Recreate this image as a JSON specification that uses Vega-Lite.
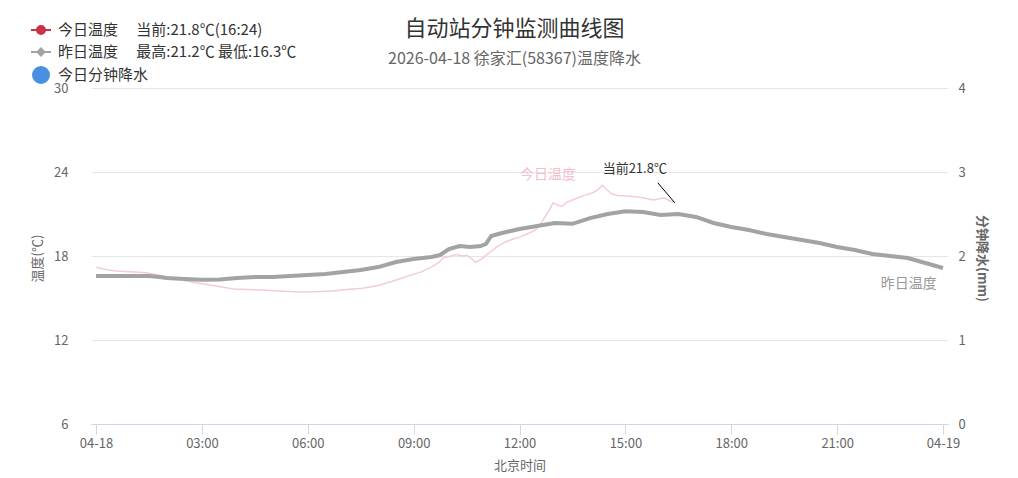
{
  "$schema": "https://vega.github.io/schema/vega-lite/v6.json",
  "width": 857,
  "height": 336,
  "autosize": {"type": "none"},
  "padding": {"left": 91, "top": 88, "right": 70, "bottom": 54},
  "background": "white",
  "config": {"font": "Noto Sans CJK SC", "view": {"stroke": null}},
  "title": {
    "text": "自动站分钟监测曲线图",
    "subtitle": "2026-04-18 徐家汇(58367)温度降水",
    "fontSize": 22,
    "fontWeight": "normal",
    "color": "#333333",
    "subtitleFontSize": 16,
    "subtitleColor": "#666666",
    "subtitlePadding": 10,
    "offset": -49,
    "dx": -5,
    "anchor": "middle"
  },
  "datasets": {
    "temp": [
      {"s": "今日温度", "h": 0, "t": 17.2}, {"s": "今日温度", "h": 0.25, "t": 17.05}, {"s": "今日温度", "h": 0.5, "t": 16.95}, {"s": "今日温度", "h": 0.8, "t": 16.9}, {"s": "今日温度", "h": 1.1, "t": 16.85}, {"s": "今日温度", "h": 1.4, "t": 16.8}, {"s": "今日温度", "h": 1.65, "t": 16.7}, {"s": "今日温度", "h": 2.0, "t": 16.5}, {"s": "今日温度", "h": 2.35, "t": 16.35}, {"s": "今日温度", "h": 2.7, "t": 16.15}, {"s": "今日温度", "h": 3.05, "t": 16.0}, {"s": "今日温度", "h": 3.4, "t": 15.85}, {"s": "今日温度", "h": 3.9, "t": 15.65}, {"s": "今日温度", "h": 4.3, "t": 15.6}, {"s": "今日温度", "h": 4.7, "t": 15.57}, {"s": "今日温度", "h": 5.2, "t": 15.5}, {"s": "今日温度", "h": 5.6, "t": 15.45}, {"s": "今日温度", "h": 5.85, "t": 15.43}, {"s": "今日温度", "h": 6.2, "t": 15.45}, {"s": "今日温度", "h": 6.7, "t": 15.5}, {"s": "今日温度", "h": 7.1, "t": 15.6}, {"s": "今日温度", "h": 7.55, "t": 15.7}, {"s": "今日温度", "h": 8.0, "t": 15.9}, {"s": "今日温度", "h": 8.4, "t": 16.2}, {"s": "今日温度", "h": 8.7, "t": 16.45}, {"s": "今日温度", "h": 8.95, "t": 16.65}, {"s": "今日温度", "h": 9.2, "t": 16.85}, {"s": "今日温度", "h": 9.5, "t": 17.2}, {"s": "今日温度", "h": 9.7, "t": 17.5}, {"s": "今日温度", "h": 9.85, "t": 17.9}, {"s": "今日温度", "h": 10.0, "t": 17.95}, {"s": "今日温度", "h": 10.2, "t": 18.1}, {"s": "今日温度", "h": 10.4, "t": 18.0}, {"s": "今日温度", "h": 10.5, "t": 18.05}, {"s": "今日温度", "h": 10.65, "t": 17.8}, {"s": "今日温度", "h": 10.75, "t": 17.55}, {"s": "今日温度", "h": 10.9, "t": 17.75}, {"s": "今日温度", "h": 11.05, "t": 18.05}, {"s": "今日温度", "h": 11.3, "t": 18.55}, {"s": "今日温度", "h": 11.45, "t": 18.8}, {"s": "今日温度", "h": 11.6, "t": 19.0}, {"s": "今日温度", "h": 11.8, "t": 19.2}, {"s": "今日温度", "h": 12.0, "t": 19.35}, {"s": "今日温度", "h": 12.2, "t": 19.55}, {"s": "今日温度", "h": 12.45, "t": 19.85}, {"s": "今日温度", "h": 12.6, "t": 20.3}, {"s": "今日温度", "h": 12.7, "t": 20.7}, {"s": "今日温度", "h": 12.85, "t": 21.3}, {"s": "今日温度", "h": 12.95, "t": 21.8}, {"s": "今日温度", "h": 13.1, "t": 21.6}, {"s": "今日温度", "h": 13.2, "t": 21.55}, {"s": "今日温度", "h": 13.35, "t": 21.85}, {"s": "今日温度", "h": 13.55, "t": 22.05}, {"s": "今日温度", "h": 13.7, "t": 22.2}, {"s": "今日温度", "h": 13.85, "t": 22.35}, {"s": "今日温度", "h": 14.0, "t": 22.45}, {"s": "今日温度", "h": 14.1, "t": 22.55}, {"s": "今日温度", "h": 14.25, "t": 22.8}, {"s": "今日温度", "h": 14.35, "t": 23.05}, {"s": "今日温度", "h": 14.45, "t": 22.8}, {"s": "今日温度", "h": 14.6, "t": 22.45}, {"s": "今日温度", "h": 14.8, "t": 22.3}, {"s": "今日温度", "h": 14.95, "t": 22.3}, {"s": "今日温度", "h": 15.2, "t": 22.25}, {"s": "今日温度", "h": 15.4, "t": 22.2}, {"s": "今日温度", "h": 15.6, "t": 22.1}, {"s": "今日温度", "h": 15.8, "t": 22.0}, {"s": "今日温度", "h": 16.0, "t": 22.1}, {"s": "今日温度", "h": 16.1, "t": 22.15}, {"s": "今日温度", "h": 16.25, "t": 21.95}, {"s": "今日温度", "h": 16.4, "t": 21.8},
      {"s": "昨日温度", "h": 0, "t": 16.57}, {"s": "昨日温度", "h": 0.5, "t": 16.57}, {"s": "昨日温度", "h": 1.0, "t": 16.57}, {"s": "昨日温度", "h": 1.5, "t": 16.57}, {"s": "昨日温度", "h": 1.8, "t": 16.5}, {"s": "昨日温度", "h": 2.0, "t": 16.43}, {"s": "昨日温度", "h": 2.5, "t": 16.36}, {"s": "昨日温度", "h": 3.0, "t": 16.3}, {"s": "昨日温度", "h": 3.5, "t": 16.33}, {"s": "昨日温度", "h": 4.0, "t": 16.43}, {"s": "昨日温度", "h": 4.5, "t": 16.5}, {"s": "昨日温度", "h": 5.0, "t": 16.5}, {"s": "昨日温度", "h": 5.5, "t": 16.57}, {"s": "昨日温度", "h": 6.0, "t": 16.64}, {"s": "昨日温度", "h": 6.5, "t": 16.71}, {"s": "昨日温度", "h": 7.0, "t": 16.86}, {"s": "昨日温度", "h": 7.5, "t": 17.0}, {"s": "昨日温度", "h": 8.0, "t": 17.21}, {"s": "昨日温度", "h": 8.5, "t": 17.57}, {"s": "昨日温度", "h": 9.0, "t": 17.79}, {"s": "昨日温度", "h": 9.5, "t": 17.93}, {"s": "昨日温度", "h": 9.75, "t": 18.07}, {"s": "昨日温度", "h": 10.0, "t": 18.5}, {"s": "昨日温度", "h": 10.3, "t": 18.71}, {"s": "昨日温度", "h": 10.6, "t": 18.65}, {"s": "昨日温度", "h": 10.9, "t": 18.71}, {"s": "昨日温度", "h": 11.05, "t": 18.86}, {"s": "昨日温度", "h": 11.2, "t": 19.43}, {"s": "昨日温度", "h": 11.5, "t": 19.64}, {"s": "昨日温度", "h": 12.0, "t": 19.93}, {"s": "昨日温度", "h": 12.5, "t": 20.14}, {"s": "昨日温度", "h": 13.0, "t": 20.36}, {"s": "昨日温度", "h": 13.5, "t": 20.3}, {"s": "昨日温度", "h": 14.0, "t": 20.71}, {"s": "昨日温度", "h": 14.5, "t": 21.0}, {"s": "昨日温度", "h": 15.0, "t": 21.2}, {"s": "昨日温度", "h": 15.5, "t": 21.14}, {"s": "昨日温度", "h": 16.0, "t": 20.93}, {"s": "昨日温度", "h": 16.5, "t": 21.0}, {"s": "昨日温度", "h": 17.0, "t": 20.79}, {"s": "昨日温度", "h": 17.5, "t": 20.36}, {"s": "昨日温度", "h": 18.0, "t": 20.07}, {"s": "昨日温度", "h": 18.5, "t": 19.86}, {"s": "昨日温度", "h": 19.0, "t": 19.57}, {"s": "昨日温度", "h": 19.5, "t": 19.36}, {"s": "昨日温度", "h": 20.0, "t": 19.14}, {"s": "昨日温度", "h": 20.5, "t": 18.93}, {"s": "昨日温度", "h": 21.0, "t": 18.64}, {"s": "昨日温度", "h": 21.5, "t": 18.43}, {"s": "昨日温度", "h": 22.0, "t": 18.14}, {"s": "昨日温度", "h": 22.5, "t": 18.0}, {"s": "昨日温度", "h": 23.0, "t": 17.86}, {"s": "昨日温度", "h": 23.5, "t": 17.5}, {"s": "昨日温度", "h": 24.0, "t": 17.14}
    ],
    "rain": [{"h": 0, "rain": 0}]
  },
  "layer": [
    {
      "data": {"name": "temp"},
      "layer": [
        {
          "transform": [{"filter": "datum.s == '今日温度'"}],
          "mark": {"type": "line", "strokeWidth": 1.5, "color": "#f4ccd3"},
          "encoding": {
            "x": {
              "field": "h", "type": "quantitative",
              "scale": {"domain": [0, 24], "nice": false},
              "axis": {
                "values": [0, 3, 6, 9, 12, 15, 18, 21, 24],
                "labelExpr": "datum.value == 0 ? '04-18' : datum.value == 24 ? '04-19' : (datum.value < 10 ? '0' : '') + datum.value + ':00'",
                "title": "北京时间", "grid": false, "labelFlush": false,
                "domainColor": "#ccd6eb", "tickColor": "#ccd6eb", "tickSize": 10,
                "labelColor": "#666666", "labelFontSize": 13, "labelPadding": 3,
                "titleColor": "#666666", "titleFontSize": 13, "titleFontWeight": "normal", "titlePadding": 9
              }
            },
            "y": {
              "field": "t", "type": "quantitative",
              "scale": {"domain": [6, 30], "nice": false, "zero": false},
              "axis": {
                "values": [6, 12, 18, 24, 30], "title": "温度(℃)", "grid": true, "gridColor": "#e6e6e6",
                "domain": false, "ticks": false, "labelFlush": false,
                "labelColor": "#666666", "labelFontSize": 13, "labelPadding": 23,
                "titleColor": "#666666", "titleFontSize": 13, "titleFontWeight": "normal",
                "titleAngle": -90, "titleX": -54, "titleY": 170, "titleAlign": "center", "titleBaseline": "middle"
              }
            }
          }
        },
        {
          "transform": [{"filter": "datum.s == '昨日温度'"}],
          "mark": {"type": "line", "strokeWidth": 4, "interpolate": "linear"},
          "encoding": {
            "x": {"field": "h", "type": "quantitative"},
            "y": {"field": "t", "type": "quantitative"},
            "color": {
              "field": "s", "type": "nominal",
              "scale": {"domain": ["今日温度", "昨日温度", "今日分钟降水"], "range": ["#c8324a", "#a3a3a3", "#4a90e2"]},
              "legend": {
                "orient": "none", "legendX": -61, "legendY": -69, "title": null, "direction": "vertical",
                "padding": 0, "labelFontSize": 15, "labelColor": "#333333", "labelOffset": 6, "labelLimit": 500,
                "labelExpr": "datum.label == '今日温度' ? '今日温度　 当前:21.8℃(16:24)' : datum.label == '昨日温度' ? '昨日温度　 最高:21.2℃ 最低:16.3℃' : datum.label",
                "symbolSize": 400, "symbolStrokeWidth": 2, "rowPadding": 3,
                "encode": {
                  "symbols": {
                    "update": {
                      "shape": {"signal": "datum.index == 0 ? 'M-1,0L1,0M-0.4,0A0.4,0.4,0,1,0,0.4,0A0.4,0.4,0,1,0,-0.4,0Z' : datum.index == 1 ? 'M-1,0L1,0M0,-0.35L0.35,0L0,0.35L-0.35,0Z' : 'M-0.8,0A0.8,0.8,0,1,0,0.8,0A0.8,0.8,0,1,0,-0.8,0Z'"},
                      "fill": {"signal": "datum.index == 0 ? '#c8324a' : datum.index == 1 ? '#a3a3a3' : '#4a90e2'"},
                      "stroke": {"signal": "datum.index == 0 ? '#c8324a' : datum.index == 1 ? '#a3a3a3' : '#4a90e2'"},
                      "strokeWidth": {"value": 2},
                      "opacity": {"value": 1}
                    }
                  }
                }
              }
            }
          }
        },
        {
          "transform": [{"filter": "datum.s == '今日温度' && datum.h == 16.4"}],
          "mark": {"type": "rule", "color": "#000000", "strokeWidth": 1, "x2Offset": -17, "y2Offset": -20},
          "encoding": {
            "x": {"field": "h", "type": "quantitative"},
            "y": {"field": "t", "type": "quantitative"},
            "x2": {"field": "h"},
            "y2": {"field": "t"}
          }
        },
        {
          "transform": [{"filter": "datum.s == '今日温度' && datum.h == 16.4"}],
          "mark": {"type": "text", "fontSize": 13, "color": "#333333", "dx": -40, "dy": -34},
          "encoding": {
            "x": {"field": "h", "type": "quantitative"},
            "y": {"field": "t", "type": "quantitative"},
            "text": {"value": "当前21.8℃"}
          }
        },
        {
          "transform": [{"filter": "datum.s == '今日温度' && datum.h == 12.95"}],
          "mark": {"type": "text", "fontSize": 14, "color": "#f2c0c9", "dx": -5, "dy": -28},
          "encoding": {
            "x": {"field": "h", "type": "quantitative"},
            "y": {"field": "t", "type": "quantitative"},
            "text": {"field": "s"}
          }
        },
        {
          "transform": [{"filter": "datum.s == '昨日温度' && datum.h == 23"}],
          "mark": {"type": "text", "fontSize": 14, "color": "#999999", "dx": 1, "dy": 26},
          "encoding": {
            "x": {"field": "h", "type": "quantitative"},
            "y": {"field": "t", "type": "quantitative"},
            "text": {"field": "s"}
          }
        }
      ]
    },
    {
      "data": {"name": "rain"},
      "mark": {"type": "bar", "width": 2, "color": "#4a90e2"},
      "encoding": {
        "x": {"field": "h", "type": "quantitative"},
        "y": {
          "field": "rain", "type": "quantitative",
          "scale": {"domain": [0, 4], "nice": false},
          "axis": {
            "orient": "right", "values": [0, 1, 2, 3, 4], "title": "分钟降水(mm)", "grid": false,
            "domain": false, "ticks": false, "labelFlush": false,
            "labelColor": "#666666", "labelFontSize": 13, "labelPadding": 10,
            "titleColor": "#666666", "titleFontSize": 13, "titleFontWeight": "bold",
            "titleAngle": 90, "titleX": 33, "titleY": 170, "titleAlign": "center", "titleBaseline": "middle"
          }
        }
      }
    }
  ],
  "resolve": {"scale": {"y": "independent"}}
}
